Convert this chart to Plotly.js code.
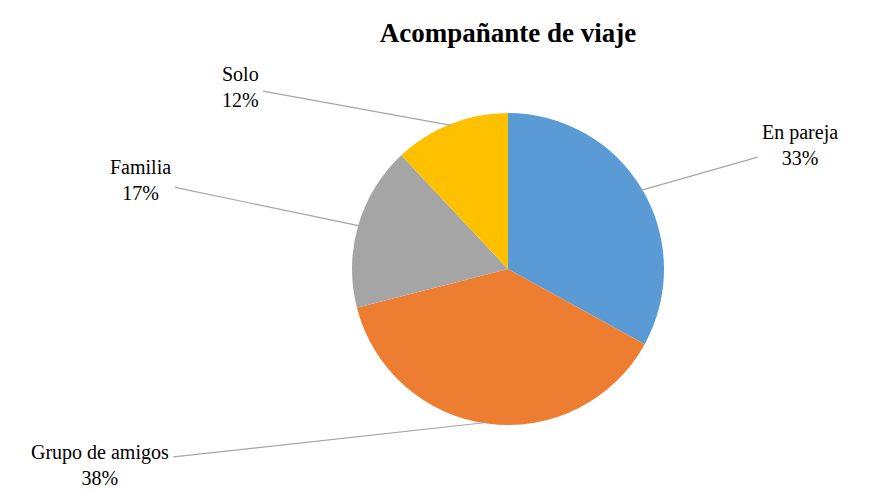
<!DOCTYPE html>
<html>
<head>
<meta charset="utf-8">
<script src="https://cdn.plot.ly/plotly-3.0.1.min.js"></script>
<style>
html,body{margin:0;padding:0;background:#fff;font-family:'Liberation Serif',serif;}
#chart text{font-family:'Liberation Serif',serif !important;}
</style>
</head>
<body>
<div id="chart" style="width:869px;height:491px"></div>
<script>
var categories = ["En pareja", "Grupo de amigos", "Familia", "Solo"];
var values = [33, 38, 17, 12];
var colors = ["#5B9BD5", "#ED7D31", "#A5A5A5", "#FFC000"];
var titleText = "Acompa\u00f1ante de viaje";

var W = 869, H = 491;
var cx = 508, cy = 269, r = 156;
// label centre positions (pixels from top-left)
var labelPos = [[800, 145], [100, 465], [140, 180], [240, 87]];

var total = values.reduce(function(a, b) { return a + b; }, 0);
var annotations = [];
var acc = 0;
for (var i = 0; i < values.length; i++) {
  var mid = (acc + values[i] / 2) / total * 2 * Math.PI;
  acc += values[i];
  var tx = cx + r * 0.99 * Math.sin(mid);
  var ty = cy - r * 0.99 * Math.cos(mid);
  var pct = Math.round(values[i] / total * 100) + "%";
  annotations.push({
    xref: "paper", yref: "paper",
    x: tx / W, y: 1 - ty / H,
    ax: labelPos[i][0] - tx, ay: labelPos[i][1] - ty,
    text: categories[i] + "<br>" + pct,
    showarrow: true, arrowhead: 0, arrowwidth: 1.2, arrowcolor: "#A6A6A6",
    standoff: 0, startstandoff: 3,
    align: "center",
    font: {family: "Liberation Serif", size: 20, color: "#000000"}
  });
}

var data = [{
  type: "pie",
  labels: categories,
  values: values,
  sort: false,
  direction: "clockwise",
  rotation: 0,
  textinfo: "none",
  hoverinfo: "label+percent",
  marker: {colors: colors, line: {width: 0}},
  domain: {x: [(cx - r) / W, (cx + r) / W], y: [1 - (cy + r) / H, 1 - (cy - r) / H]},
  showlegend: false
}];

var layout = {
  width: W, height: H,
  margin: {l: 0, r: 0, t: 0, b: 0},
  paper_bgcolor: "#ffffff",
  font: {family: "Liberation Serif", color: "#000000"},
  title: {
    text: "<b>" + titleText + "</b>",
    x: 508 / W, xanchor: "center", xref: "paper",
    y: 1 - 33 / H, yanchor: "middle", yref: "container",
    font: {family: "Liberation Serif", size: 27, color: "#000000"}
  },
  annotations: annotations,
  showlegend: false
};

Plotly.newPlot("chart", data, layout, {displayModeBar: false});
</script>
</body>
</html>
